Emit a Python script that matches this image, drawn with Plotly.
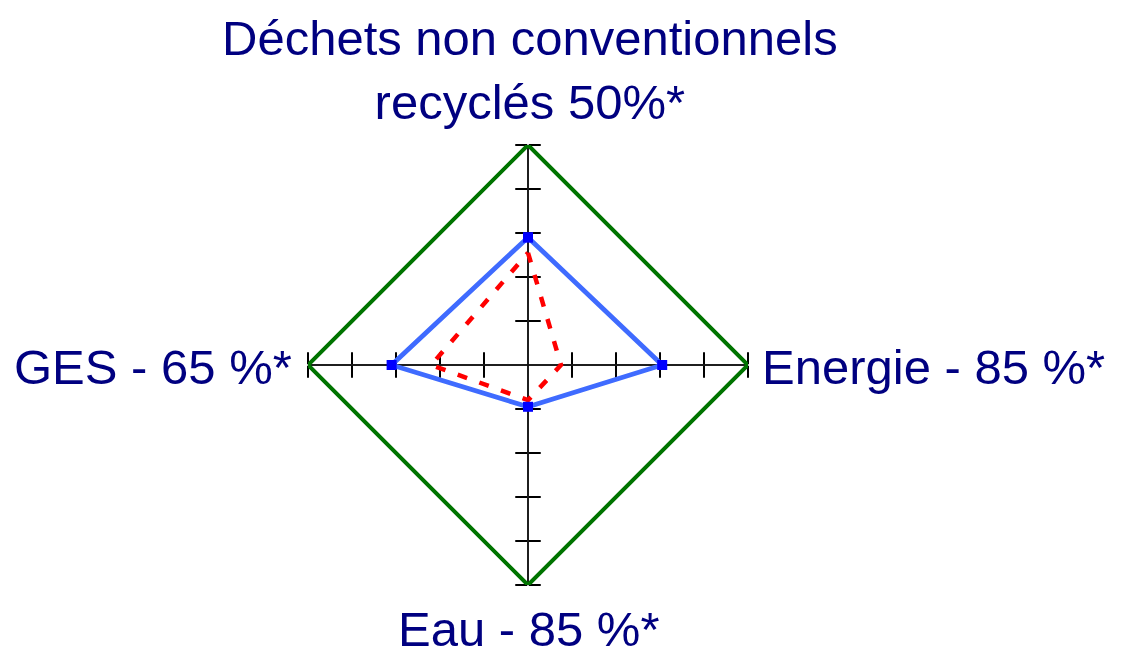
import plotly.graph_objects as go

categories = ["Déchets non conventionnels<br>recyclés 50%*", "Energie - 85 %*", "Eau - 85 %*", "GES - 65 %*"]
objectif = [100, 100, 100, 100]
serie_bleue = [58, 61, 19, 62]
serie_rouge = [51, 15, 16, 44]
tick_values = [20, 40, 60, 80, 100]

W, H = 1125, 655
OFF = 8  # page body margin
cx, cy, R = 528 - OFF, 365 - OFF, 220
dom_x = [(cx - R) / W, (cx + R) / W]
dom_y = [(H - cy - R) / H, (H - cy + R) / H]

def px(x, y):
    return (x - OFF) / W, 1 - (y - OFF) / H

fig = go.Figure()
layout = dict(
    width=W, height=H, margin=dict(l=0, r=0, t=0, b=0),
    paper_bgcolor="white", plot_bgcolor="white", showlegend=False,
)

# axis-only polar subplots (cross with ticks on both sides)
axis_names = ["polar"] + [f"polar{i}" for i in range(2, 9)]
k = 0
for ang in [0, 90, 180, 270]:
    for side in ["clockwise", "counterclockwise"]:
        name = axis_names[k]
        k += 1
        layout[name] = dict(
            domain=dict(x=dom_x, y=dom_y), bgcolor="rgba(0,0,0,0)",
            radialaxis=dict(range=[0, 100], angle=ang, side=side, tickvals=tick_values,
                            ticks="outside", ticklen=12, tickwidth=1.5, tickcolor="#000",
                            showticklabels=False, showline=True, linecolor="#111", linewidth=1.5,
                            showgrid=False),
            angularaxis=dict(visible=False),
        )
        fig.add_trace(go.Scatterpolar(r=[0], theta=[0], mode="markers", marker=dict(opacity=0),
                                      hoverinfo="skip", subplot=name))

data_polar = "polar9"
layout[data_polar] = dict(
    domain=dict(x=dom_x, y=dom_y), bgcolor="rgba(0,0,0,0)",
    radialaxis=dict(visible=False, range=[0, 100]),
    angularaxis=dict(type="category", categoryorder="array", categoryarray=categories,
                     rotation=90, direction="clockwise", showline=False, showgrid=False,
                     ticks="", showticklabels=False),
)

def closed(v):
    return list(v) + [v[0]]

fig.add_trace(go.Scatterpolar(r=closed(objectif), theta=closed(categories), mode="lines",
                              line=dict(color="#007400", width=4), subplot=data_polar, hoverinfo="skip"))
fig.add_trace(go.Scatterpolar(r=closed(serie_rouge), theta=closed(categories), mode="lines",
                              line=dict(color="#ff0000", width=4.5, dash="10px,13px"),
                              subplot=data_polar, hoverinfo="skip"))
fig.add_trace(go.Scatterpolar(r=closed(serie_bleue), theta=closed(categories), mode="lines+markers",
                              line=dict(color="#3f6bff", width=4.8),
                              marker=dict(symbol="square", size=10, color="#0000ff"),
                              subplot=data_polar, hoverinfo="skip"))

font = dict(family="Liberation Sans, Arial", size=49, color="#000080")
label_pos = [
    (530, 70, "center", "middle"),   # top
    (760, 367, "left", "middle"),    # right
    (529, 629, "center", "middle"),  # bottom
    (294, 367, "right", "middle"),   # left
]
annotations = []
for text, (x, y, xa, ya) in zip(categories, label_pos):
    xp, yp = px(x, y)
    annotations.append(dict(text=text, x=xp, y=yp, xref="paper", yref="paper",
                            xanchor=xa, yanchor=ya, showarrow=False, font=font, align="center"))
layout["annotations"] = annotations

fig.update_layout(**layout)
fig.write_html("out.html")
